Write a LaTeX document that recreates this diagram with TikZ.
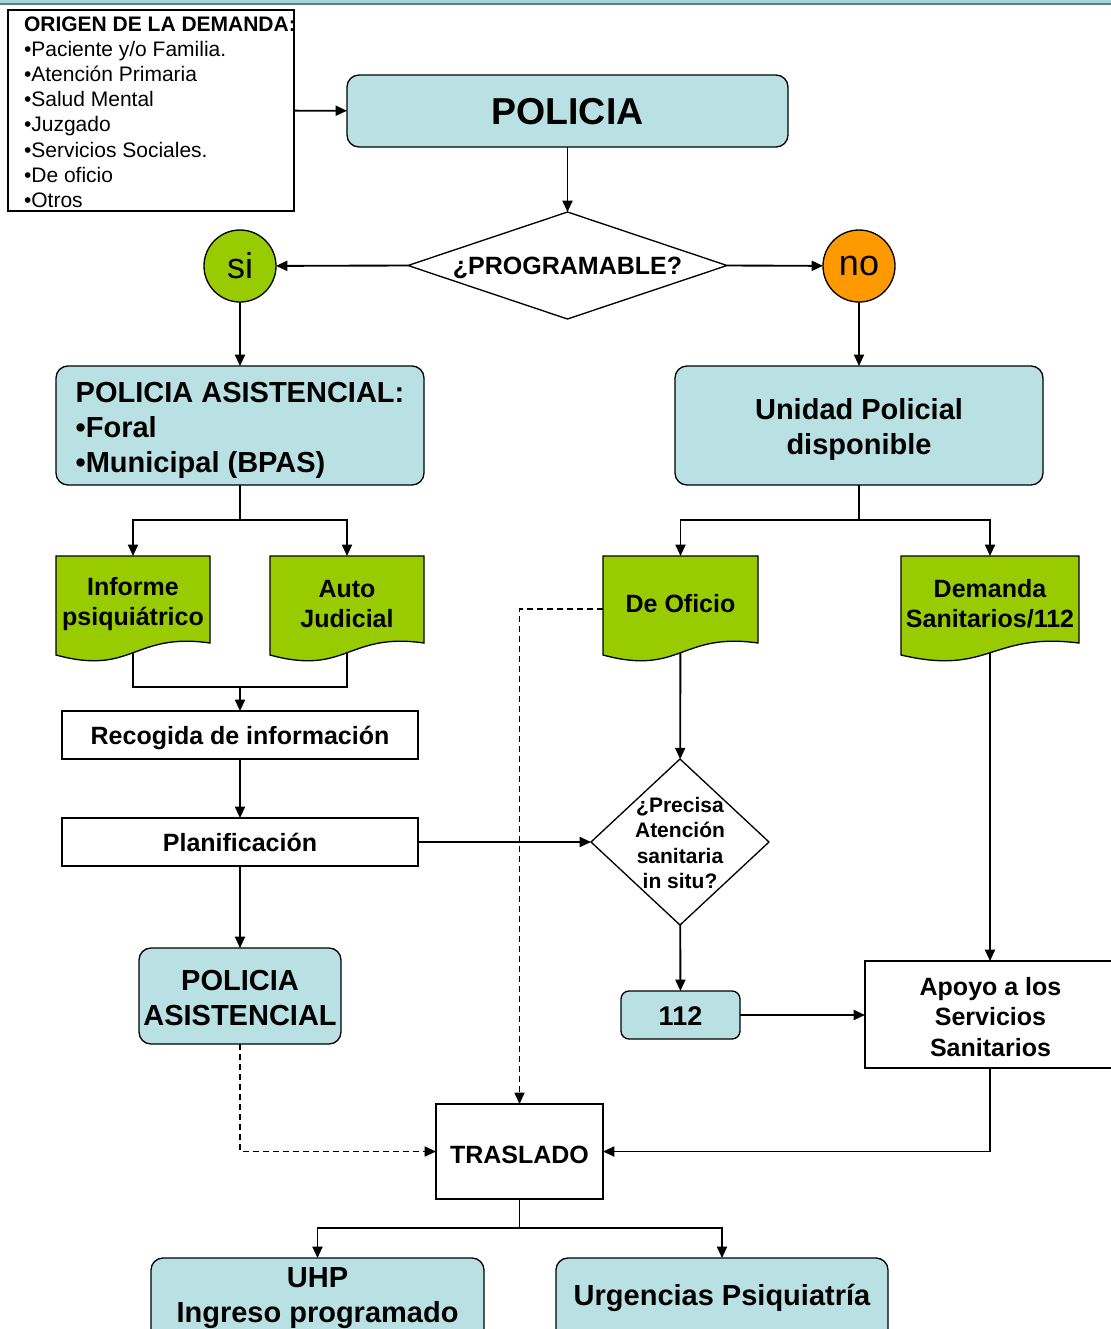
\documentclass[tikz,border=0pt]{standalone}
\usepackage{fontspec}
\setmainfont{Liberation Sans}
\usetikzlibrary{arrows.meta,shapes.geometric}

\definecolor{boxteal}{HTML}{B9E0E3}
\definecolor{docgreen}{HTML}{99CC00}
\definecolor{noorange}{HTML}{FF9900}
\definecolor{bandlight}{HTML}{A9D4D7}
\definecolor{banddark}{HTML}{5F8083}

\newcommand\fsz[2]{\fontsize{#1}{#2}\selectfont}

\pgfdeclarelayer{bg}
\pgfsetlayers{bg,main}

\tikzset{
  every node/.style={inner sep=0pt, outer sep=0pt},
  every label/.style={inner sep=0pt, align=center},
  line/.style={line width=1.4pt, draw=black},
  arr/.style={line, -{Triangle[length=8.5pt,width=7.5pt]}},
  dsh/.style={line width=1.1pt, dash pattern=on 4.5pt off 3pt},
  tealbox/.style={rectangle, rounded corners=9pt, draw, line width=1pt,
    fill=boxteal},
  plainbox/.style={rectangle, draw, line width=1pt, fill=white},
  docnode/.style={rectangle, align=center, font=\fsz{18.75}{22.5}\bfseries,
    minimum height=72pt},
  docshape/.style={draw, line width=1pt, fill=docgreen},
  decision/.style={diamond, draw, line width=1pt, fill=white},
  answer/.style={circle, draw, line width=1pt, minimum size=54pt,
    font=\fsz{27}{27}},
  big/.style={font=\fsz{21.75}{26.25}\bfseries},
  mid/.style={font=\fsz{18.75}{22.5}\bfseries},
}

\begin{document}
\begin{tikzpicture}[x=0.75pt, y=-0.75pt]
\clip (0,0) rectangle (1111,1329);
\begin{pgfonlayer}{bg}
  \fill[white] (0,0) rectangle (1111,1329);
\end{pgfonlayer}

% header band
\fill[bandlight] (0,0) rectangle (1111,3.2);
\fill[banddark] (0,3.2) rectangle (1111,4.6);

% origin of the request
\node[rectangle, draw, line width=1pt, minimum width=214.5pt,
  minimum height=150.75pt] (orig) at (151,110.5) {};
\node[anchor=north west, align=left, font=\fsz{15.75}{18.9}] (origt) at (24,16.5)
  {\textbf{ORIGEN DE LA DEMANDA:}\\
   •Paciente y/o Familia.\\
   •Atención Primaria\\
   •Salud Mental\\
   •Juzgado\\
   •Servicios Sociales.\\
   •De oficio\\
   •Otros};

% police and first decision
\node[tealbox, minimum width=330.75pt, minimum height=54pt,
  label={[font=\fsz{28.1}{28.1}\bfseries, yshift=-0.5pt]center:POLICIA}]
  (pol) at (567.5,111) {};
\node[decision, minimum width=239.25pt, minimum height=80.25pt,
  label={[font=\fsz{18.75}{18.75}\bfseries, yshift=-1.5pt]center:¿PROGRAMABLE?}]
  (q1) at (567.5,265.5) {};
\node[answer, fill=docgreen] (si) at (240,266) {si};
\node[answer, fill=noorange] (no) at (859,266) {no};

% second level boxes
\node[tealbox, minimum width=276pt, minimum height=89.25pt,
  label={[big, align=left, yshift=-3.5pt]center:POLICIA ASISTENCIAL:\\•Foral\\•Municipal (BPAS)}]
  (pa) at (240,425.5) {};
\node[tealbox, minimum width=276pt, minimum height=89.25pt,
  label={[big, yshift=-3pt]center:Unidad Policial\\disponible}]
  (up) at (859,425.5) {};

% documents
\filldraw[docshape] (56,556) -- (210,556) -- (210,643)
  .. controls (133,632) and (133,676) .. (56,655) -- cycle;
\node[docnode, minimum width=115.5pt] (inf) at (133,604) {Informe\\psiquiátrico};
\filldraw[docshape] (270,556) -- (424,556) -- (424,643)
  .. controls (347,632) and (347,676) .. (270,655) -- cycle;
\node[docnode, minimum width=115.5pt] (auto) at (347,604) {Auto\\Judicial};
\filldraw[docshape] (603,556) -- (758,556) -- (758,643)
  .. controls (680.5,632) and (680.5,676) .. (603,655) -- cycle;
\node[docnode, minimum width=116.25pt] (ofi) at (680.5,604) {De Oficio};
\filldraw[docshape] (901,556) -- (1079,556) -- (1079,643)
  .. controls (990,632) and (990,676) .. (901,655) -- cycle;
\node[docnode, minimum width=133.5pt] (dem) at (990,604) {Demanda\\Sanitarios/112};

% left column
\node[plainbox, minimum width=267pt, minimum height=36pt,
  label={[mid, yshift=-2.5pt]center:Recogida de información}] (rec) at (240,735) {};
\node[plainbox, minimum width=267pt, minimum height=36pt,
  label={[mid, yshift=-0.5pt]center:Planificación}] (plan) at (240,842) {};
\node[tealbox, minimum width=151.5pt, minimum height=72pt,
  label={[big, yshift=-1.5pt]center:POLICIA\\ASISTENCIAL}] (pa2) at (240,996) {};

% right column
\node[decision, minimum width=133.5pt, minimum height=124.5pt,
  label={[font=\fsz{15.75}{18.9}\bfseries, yshift=-0.8pt]center:¿Precisa\\Atención\\sanitaria\\in situ?}]
  (q2) at (680,842) {};
\node[tealbox, rounded corners=6pt, minimum width=89.25pt, minimum height=36pt,
  label={[font=\fsz{20.25}{20.25}\bfseries, yshift=-0.8pt]center:112}] (n112) at (680.5,1015) {};
\node[plainbox, minimum width=188.25pt, minimum height=80.25pt,
  label={[font=\fsz{18.75}{22.9}\bfseries, yshift=-1.8pt]center:Apoyo a los\\Servicios\\Sanitarios}]
  (apoyo) at (990.5,1014.5) {};

% transfer and destinations
\node[plainbox, minimum width=125.25pt, minimum height=71.25pt,
  label={[mid, yshift=-2.2pt]center:TRASLADO}] (tras) at (519.5,1151.5) {};
\node[tealbox, minimum width=249.75pt, minimum height=75pt,
  label={[big, yshift=7.5pt]center:UHP\\Ingreso programado}] (uhp) at (317.5,1308) {};
\node[tealbox, minimum width=249pt, minimum height=75pt,
  label={[big, yshift=7.3pt]center:Urgencias Psiquiatría}] (urg) at (722,1308) {};

% junction points
\coordinate (j1) at (240,520);
\coordinate (j2) at (859,520);
\coordinate (j3) at (240,687);
\coordinate (d1) at (520,609);
\coordinate (j4) at (519.5,1228);

\begin{pgfonlayer}{bg}
  \draw[arr] (orig) -- (pol);
  \draw[arr] (pol) -- (q1);
  \draw[arr] (q1.west) -- (si);
  \draw[arr] (q1.east) -- (no);
  \draw[arr] (si) -- (pa);
  \draw[arr] (no) -- (up);

  \draw[line] (pa) -- (j1);
  \draw[arr] (j1) -| (inf);
  \draw[arr] (j1) -| (auto);
  \draw[line] (up) -- (j2);
  \draw[arr] (j2) -| (ofi);
  \draw[arr] (j2) -| (dem);

  \draw[line] (inf.center) |- (j3);
  \draw[line] (auto.center) |- (j3);
  \draw[arr] (j3) -- (rec);
  \draw[arr] (rec) -- (plan);
  \draw[arr] (plan) -- (pa2);
  \draw[arr] (plan.east) -- (q2.west);

  \draw[arr] (ofi.center) -- (q2);
  \draw[arr, dsh] (ofi.west |- d1) -| (tras);
  \draw[arr] (q2) -- (n112);
  \draw[arr] (n112.east) -- (n112.east -| apoyo.west);
  \draw[arr] (dem.center) -- (dem.center |- apoyo.north);
  \draw[arr] (dem.center |- apoyo.south) |- (tras);
  \draw[arr, dsh] (pa2) |- (tras);

  \draw[line] (tras) -- (j4);
  \draw[arr] (j4) -| (uhp);
  \draw[arr] (j4) -| (urg);
\end{pgfonlayer}
\end{tikzpicture}
\end{document}
